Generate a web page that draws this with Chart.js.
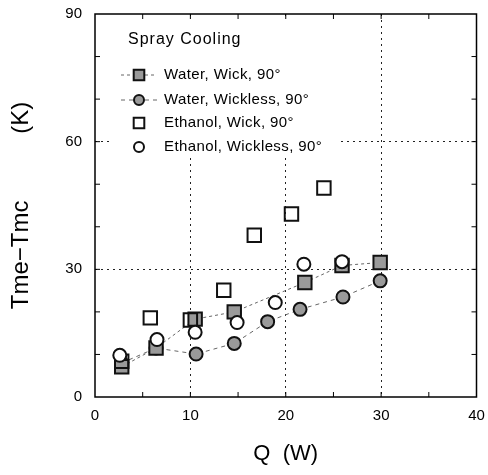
<!DOCTYPE html>
<html>
<head>
<meta charset="utf-8">
<script src="https://cdn.jsdelivr.net/npm/chart.js@4.4.1/dist/chart.umd.min.js"></script>
<style>
  html, body { margin: 0; padding: 0; background: #fff; }
  #c { display: block; }
</style>
</head>
<body>
<canvas id="c" width="488" height="475"></canvas>
<script>
// ---- data ----
const legendTitle = 'Spray Cooling';
const seriesNames = ['Water, Wick, 90°', 'Water, Wickless, 90°', 'Ethanol, Wick, 90°', 'Ethanol, Wickless, 90°'];

const waterWickQ = [2.8, 6.4, 10.5, 14.6, 22.0, 25.9, 29.9];
const waterWickT = [7.1, 11.5, 18.3, 20.0, 26.9, 30.9, 31.6];

const waterWicklessQ = [2.8, 6.4, 10.6, 14.6, 18.1, 21.5, 26.0, 29.9];
const waterWicklessT = [8.0, 11.5, 10.1, 12.6, 17.7, 20.6, 23.5, 27.3];

const ethanolWickQ = [2.8, 5.8, 10.0, 13.5, 16.7, 20.6, 24.0];
const ethanolWickT = [8.4, 18.6, 18.1, 25.1, 38.0, 43.0, 49.1];

const ethanolWicklessQ = [2.6, 6.5, 10.5, 14.9, 18.9, 21.9, 25.9];
const ethanolWicklessT = [9.8, 13.5, 15.2, 17.5, 22.2, 31.2, 31.8];

const xTicks = [0, 10, 20, 30, 40];
const yTicks = [0, 30, 60, 90];
const xGridValues = [10, 20, 30];
const yGridValues = [30, 60];
const xMinorTicks = [5, 10, 15, 20, 25, 30, 35];
const yMinorTicks = [10, 20, 30, 40, 50, 60, 70, 80];

const xTitle = 'Q  (W)';
const yTitle = 'Tme\u2212Tmc          (K)';

function pts(xs, ys) { return xs.map((x, i) => ({ x: x, y: ys[i] })); }

const FONT = "'Liberation Sans', Arial, sans-serif";

const datasets = [
  { label: seriesNames[0], data: pts(waterWickQ, waterWickT), showLine: true,
    borderColor: '#666', borderWidth: 1, borderDash: [3, 3],
    pointStyle: 'rect', pointRadius: 9.5, pointBackgroundColor: '#9a9a9a',
    pointBorderColor: '#111', pointBorderWidth: 2, order: 3 },
  { label: seriesNames[1], data: pts(waterWicklessQ, waterWicklessT), showLine: true,
    borderColor: '#666', borderWidth: 1, borderDash: [4, 4],
    pointStyle: 'circle', pointRadius: 6.5, pointBackgroundColor: '#9a9a9a',
    pointBorderColor: '#111', pointBorderWidth: 2, order: 4 },
  { label: seriesNames[2], data: pts(ethanolWickQ, ethanolWickT), showLine: false,
    pointStyle: 'rect', pointRadius: 9.5, pointBackgroundColor: 'rgba(255,255,255,0)',
    pointBorderColor: '#111', pointBorderWidth: 2, order: 2 },
  { label: seriesNames[3], data: pts(ethanolWicklessQ, ethanolWicklessT), showLine: false,
    pointStyle: 'circle', pointRadius: 6.5, pointBackgroundColor: '#fff',
    pointBorderColor: '#111', pointBorderWidth: 2, order: 1 }
];

const framePlugin = {
  id: 'frame',
  beforeDatasetsDraw(chart) {
    // white legend box hides the grid behind the legend
    const { ctx, chartArea: a } = chart;
    ctx.save();
    ctx.fillStyle = '#fff';
    ctx.fillRect(a.left + 15, a.top + 6, 228, 135);
    ctx.restore();
  },
  afterDatasetsDraw(chart) {
    const { ctx, chartArea: a, scales } = chart;
    ctx.save();
    ctx.strokeStyle = '#000';
    ctx.lineWidth = 1.5;
    ctx.setLineDash([]);
    ctx.strokeRect(a.left, a.top, a.right - a.left, a.bottom - a.top);
    ctx.lineWidth = 1;
    const L = 5;
    xMinorTicks.forEach(v => {
      const px = scales.x.getPixelForValue(v);
      ctx.beginPath();
      ctx.moveTo(px, a.bottom); ctx.lineTo(px, a.bottom - L);
      ctx.moveTo(px, a.top); ctx.lineTo(px, a.top + L);
      ctx.stroke();
    });
    yMinorTicks.forEach(v => {
      const py = scales.y.getPixelForValue(v);
      ctx.beginPath();
      ctx.moveTo(a.left, py); ctx.lineTo(a.left + L, py);
      ctx.moveTo(a.right, py); ctx.lineTo(a.right - L, py);
      ctx.stroke();
    });
    ctx.restore();
  }
};

const legendPlugin = {
  id: 'insideLegend',
  afterDraw(chart) {
    const { ctx, chartArea: a } = chart;
    ctx.save();
    ctx.fillStyle = '#000';
    ctx.textBaseline = 'middle';
    ctx.textAlign = 'left';
    ctx.font = '16px ' + FONT;
    try { ctx.letterSpacing = '1px'; } catch (e) {}
    ctx.fillText(legendTitle, a.left + 33, a.top + 26);
    try { ctx.letterSpacing = '0.4px'; } catch (e) {}
    const symX = a.left + 44;
    const textX = a.left + 69;
    const rows = [a.top + 61, a.top + 86, a.top + 109, a.top + 133];
    chart.data.datasets.forEach((ds, i) => {
      const y = rows[i];
      if (ds.showLine) {
        ctx.save();
        ctx.strokeStyle = ds.borderColor;
        ctx.lineWidth = 1;
        ctx.setLineDash(ds.borderDash);
        ctx.beginPath();
        ctx.moveTo(symX - 18, y); ctx.lineTo(symX + 18, y);
        ctx.stroke();
        ctx.restore();
      }
      ctx.save();
      ctx.fillStyle = ds.pointBackgroundColor;
      ctx.strokeStyle = ds.pointBorderColor;
      ctx.lineWidth = 2;
      Chart.helpers.drawPoint(ctx, { pointStyle: ds.pointStyle, radius: ds.pointStyle === 'rect' ? 7.5 : 5, borderWidth: 2, rotation: 0 }, symX, y);
      ctx.restore();
      ctx.font = '15px ' + FONT;
      ctx.fillText(ds.label, textX, y);
    });
    ctx.restore();
  }
};

new Chart(document.getElementById('c'), {
  type: 'scatter',
  data: { datasets: datasets },
  plugins: [framePlugin, legendPlugin],
  options: {
    responsive: false,
    animation: false,
    layout: { padding: { left: 0, right: 7, top: 14, bottom: 0 } },
    plugins: { legend: { display: false }, tooltip: { enabled: false } },
    scales: {
      x: {
        type: 'linear', min: 0, max: 40,
        afterBuildTicks(s) { s.ticks = xTicks.map(v => ({ value: v })); },
        afterFit(s) { s.height = 78; s.paddingLeft = 0; s.paddingRight = 0; },
        ticks: { color: '#000', font: { family: FONT, size: 15 }, padding: 10, maxRotation: 0 },
        grid: {
          drawTicks: false, lineWidth: 1,
          color: c => xGridValues.includes(c.tick.value) ? '#222' : 'rgba(0,0,0,0)'
        },
        border: { display: false, dash: [2, 4] },
        title: { display: true, text: xTitle, color: '#000', font: { family: FONT, size: 22 }, padding: { top: 0, bottom: 8 } }
      },
      y: {
        type: 'linear', min: 0, max: 90,
        afterBuildTicks(s) { s.ticks = yTicks.map(v => ({ value: v })); },
        afterFit(s) { s.width = 95; s.paddingTop = 0; s.paddingBottom = 0; },
        ticks: { color: '#000', font: { family: FONT, size: 15 }, padding: 13 },
        grid: {
          drawTicks: false, lineWidth: 1,
          color: c => yGridValues.includes(c.tick.value) ? '#222' : 'rgba(0,0,0,0)'
        },
        border: { display: false, dash: [2, 4] },
        title: { display: true, text: yTitle, color: '#000', font: { family: FONT, size: 24 }, padding: { top: 7, bottom: 0 } }
      }
    }
  }
});
</script>
</body>
</html>
